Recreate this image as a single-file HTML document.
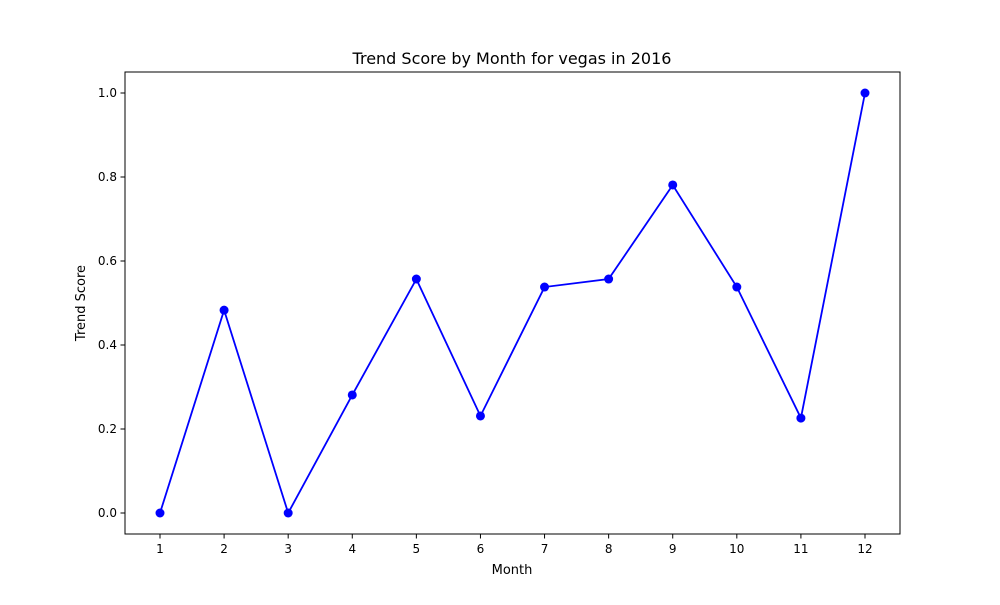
<!DOCTYPE html>
<html><head><meta charset="utf-8"><style>
body{margin:0;background:#fff;}
svg text{font-family:"DejaVu Sans","Liberation Sans",sans-serif;fill:#000;}
</style></head><body>
<svg id="chart" width="1000" height="600" xmlns="http://www.w3.org/2000/svg">
<rect width="1000" height="600" fill="#fff"/>
<text x="512" y="64" font-size="16" text-anchor="middle">Trend Score by Month for vegas in 2016</text>
<g id="axes"></g>
<rect x="125" y="72" width="775" height="462" fill="none" stroke="#000" stroke-width="1"/>
<text x="512" y="574" font-size="13" text-anchor="middle">Month</text>
<text x="85" y="303" font-size="13" text-anchor="middle" transform="rotate(-90 85 303)">Trend Score</text>
</svg>
<script>
const months=[1,2,3,4,5,6,7,8,9,10,11,12];
const scores=[0,0.483,0,0.281,0.557,0.231,0.538,0.557,0.781,0.538,0.226,1.0];
const yTicks=[0,0.2,0.4,0.6,0.8,1.0];
const yTickLabels=["0.0","0.2","0.4","0.6","0.8","1.0"];
const NS="http://www.w3.org/2000/svg";
const g=document.getElementById('axes');
const xs=m=>160+(m-1)*(865-160)/11;
const ys=v=>513-v*420;
function mk(t,a){const e=document.createElementNS(NS,t);for(const k in a)e.setAttribute(k,a[k]);g.appendChild(e);return e;}
months.forEach(m=>{
 const l=mk('line',{x1:xs(m),x2:xs(m),y1:534,y2:538.5,stroke:'#000'});
 
 
 const t=mk('text',{x:xs(m),y:553,'font-size':12,'text-anchor':'middle'});t.textContent=m;
 
 
});
yTicks.forEach((v,i)=>{
 const l=mk('line',{x1:120.5,x2:125,y1:ys(v),y2:ys(v),stroke:'#000'});
 
 
 const t=mk('text',{x:117,y:ys(v)+4,'font-size':12,'text-anchor':'end'});t.textContent=yTickLabels[i];
 
 
});
const p=mk('polyline',{points:months.map((m,i)=>xs(m)+','+ys(scores[i])).join(' '),fill:'none',stroke:'#0000ff','stroke-width':1.8});


months.forEach((m,i)=>{
 const c=mk('circle',{cx:xs(m),cy:ys(scores[i]),r:4.5,fill:'#0000ff'});
 
 
});
</script>
</body></html>
